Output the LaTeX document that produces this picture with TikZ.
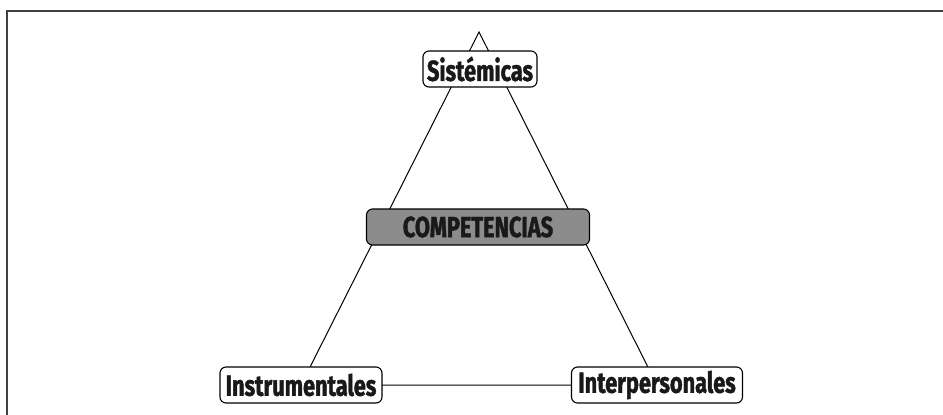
\documentclass[tikz,border=0pt]{standalone}
\usepackage{fontspec}
\setmainfont{Fira Sans}[FakeStretch=0.75, BoldFeatures={FakeBold=1.4}]
\usetikzlibrary{backgrounds}

\begin{document}
\begin{tikzpicture}[x=1pt,y=-1pt]
\tikzstyle{comp}=[draw, line width=1.1pt, rounded corners=6pt, fill=white, minimum height=36pt, inner xsep=4pt, font=\fontsize{29}{29}\selectfont\bfseries, text=black!90]
\tikzstyle{centro}=[comp, fill=black!45]
\tikzstyle{lado}=[line width=1pt]
\useasboundingbox (0,0) rectangle (943,415);
\draw[line width=1.8pt, black!75] (7,415) -- (7,11) -- (943,11);
\coordinate (vertice) at (479,32);
\node[comp, minimum width=114pt] (sist) at (480,69) {Sistémicas};
\node[centro, minimum width=223pt] (compet) at (478,227) {COMPETENCIAS};
\node[comp, minimum width=162pt] (instr) at (301,385) {Instrumentales};
\node[comp, minimum width=171pt] (interp) at (657,385) {Interpersonales};
\begin{pgfonlayer}{background}
\draw[lado] (vertice) -- (instr.center) -- (interp.center) -- cycle;
\end{pgfonlayer}
\end{tikzpicture}
\end{document}
